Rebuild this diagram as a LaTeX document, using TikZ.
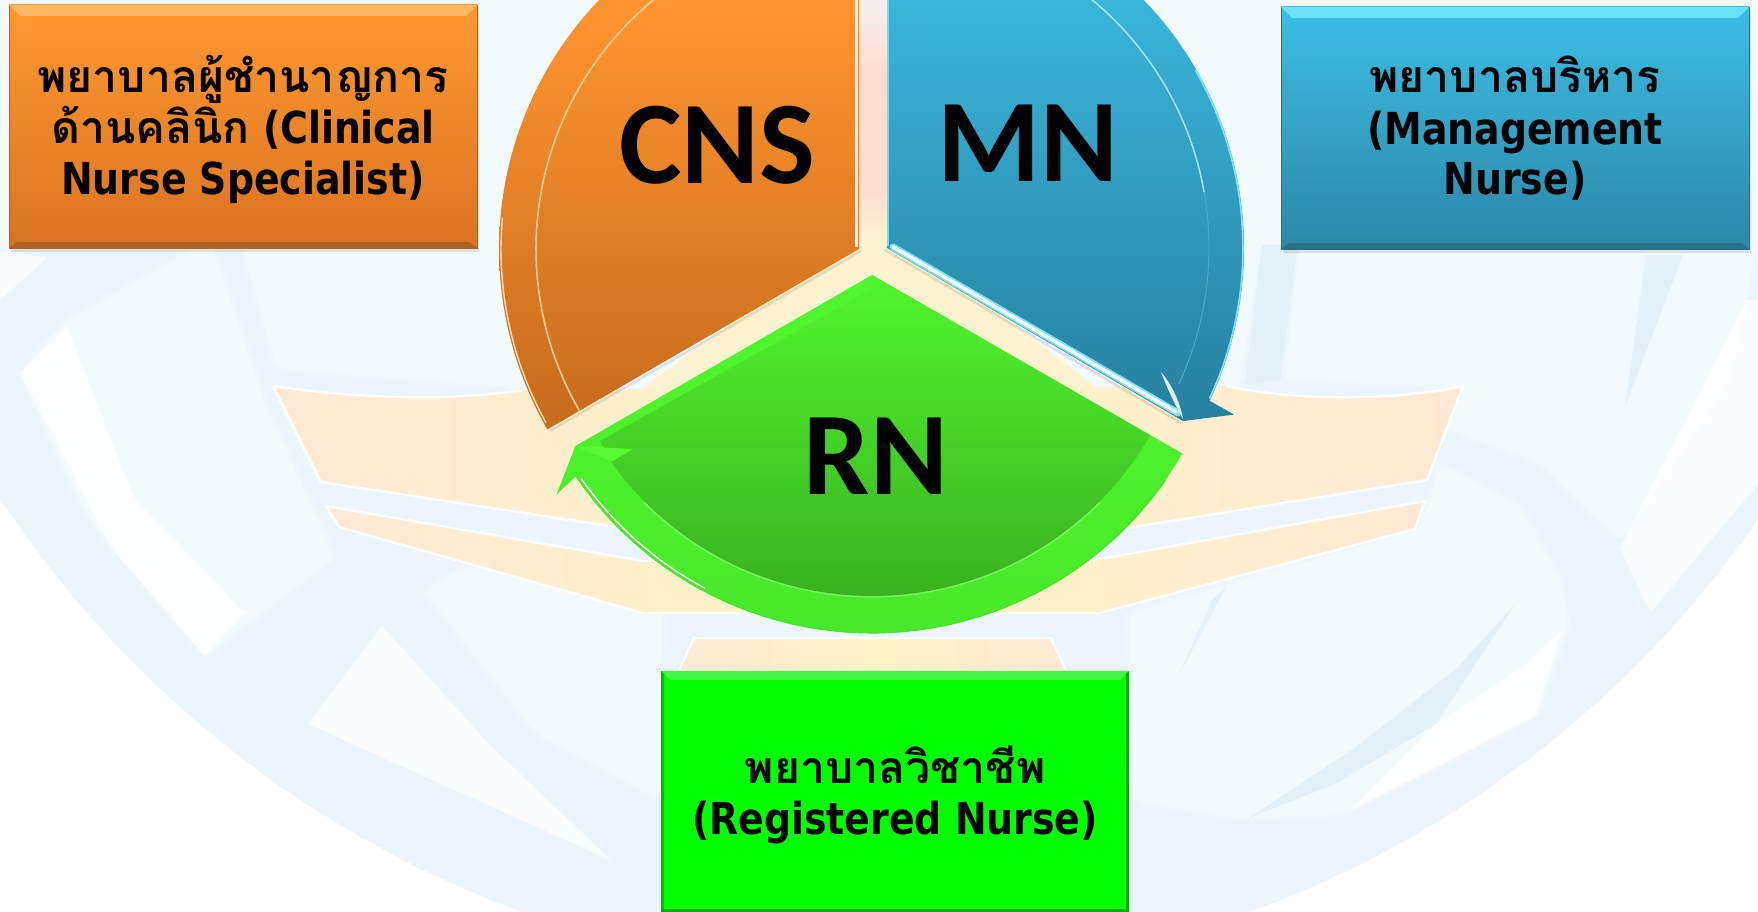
\documentclass[tikz,border=0pt]{standalone}
\usepackage{fontspec}
\setmainfont{DejaVu Sans}[FakeStretch=0.86]
\newfontfamily\thaifont[Script=Thai,Scale=1.012]{Loma}
\newfontfamily\piefont{Carlito}
\usetikzlibrary{calc}
\newcommand{\thb}[1]{{\thaifont #1}}
\newcommand{\panelfont}{\fontsize{44}{51}\selectfont\bfseries}
\newcommand{\upline}[1]{\vrule width 0pt height #1pt\relax}
\newcommand{\lowline}{\vrule width 0pt depth 12pt\relax}
\lineskiplimit=-100pt
\definecolor{wmbase}{HTML}{EBF5FB}
\definecolor{wmlight}{HTML}{F3FAFE}
\definecolor{wmdark}{HTML}{E4F1F9}
\definecolor{wingend}{HTML}{FDEAD5}
\definecolor{wingmid}{HTML}{FEF5C6}
\definecolor{cream}{HTML}{FDF3D0}
\definecolor{gaptop}{HTML}{F4EFEC}
\definecolor{gappink}{HTML}{FFDCD0}
\definecolor{ortop}{RGB}{255,149,48}
\definecolor{orbot}{RGB}{199,106,27}
\definecolor{orline}{RGB}{255,205,150}
\definecolor{orlinetwo}{RGB}{255,225,190}
\definecolor{bltop}{RGB}{57,181,218}
\definecolor{blbot}{RGB}{39,128,160}
\definecolor{bledge}{RGB}{125,215,235}
\definecolor{blband}{RGB}{120,228,248}
\definecolor{blline}{RGB}{160,232,248}
\definecolor{bllinetwo}{RGB}{75,170,200}
\definecolor{blouter}{RGB}{130,230,248}
\definecolor{grbandtop}{RGB}{80,247,46}
\definecolor{grbandbot}{RGB}{72,232,42}
\definecolor{grtop}{RGB}{80,245,46}
\definecolor{grmid}{RGB}{74,228,42}
\definecolor{grbot}{RGB}{58,178,30}
\definecolor{grhead}{RGB}{88,248,50}
\definecolor{grline}{RGB}{120,240,95}
\definecolor{grouter}{RGB}{70,225,40}
\definecolor{boxortop}{RGB}{255,152,48}
\definecolor{boxorbot}{RGB}{218,115,32}
\definecolor{boxorup}{RGB}{255,185,100}
\definecolor{boxorlow}{RGB}{176,100,35}
\definecolor{boxbltop}{RGB}{60,190,228}
\definecolor{boxblbot}{RGB}{44,135,168}
\definecolor{boxblup}{RGB}{105,226,248}
\definecolor{boxbllow}{RGB}{42,112,138}
\definecolor{boxgr}{RGB}{0,255,0}
\definecolor{boxgrup}{RGB}{70,248,70}
\definecolor{boxgrl}{RGB}{0,190,0}
\definecolor{boxgrr}{RGB}{0,170,0}
\definecolor{boxgrlow}{RGB}{0,175,0}
\tikzset{
  panel/.style={minimum width=468pt,inner sep=0pt,outer sep=0pt,align=center,
    font=\panelfont,text=black},
  pielabel/.style={anchor=base,inner sep=0pt,font=\piefont\fontsize{118}{118}\selectfont\bfseries,text=black},
  pale/.style={fill=wmlight,draw=wmlight,draw opacity=.5,line width=6pt,line join=round,rounded corners=8pt},
  blade/.style={fill=white,opacity=.7,line join=round},
  sliver/.style={fill=wmdark},
  wingedge/.style={draw=white,line width=2.5pt,line join=round},
  softshadow/.style={fill=black,opacity=.1},
  edgeshadow/.style={draw=black,opacity=.1,line width=2.5pt}
}
\begin{document}
\begin{tikzpicture}[x=1pt,y=-1pt]
\useasboundingbox (0,0) rectangle (1758,912);
\clip (0,0) rectangle (1758,912);
% --- watermark background
\fill[white] (0,0) rectangle (1758,912);
\begin{scope}
\clip (886,-84) circle [radius=1060pt];
\fill[wmbase] (0,0) rectangle (1758,912);
\fill[wmlight] (0,0) rectangle (1758,250);
\path[pale] (210,240) -- (67,321) -- (20,373) -- (89,519) -- (205,656) -- (335,557) -- (268,411) -- cycle;
\fill[blade] (67,326) -- (20,373) -- (112,549) -- (205,656) -- (245,613) -- (134,497) -- cycle;
\fill[blade] (0,250) -- (47,258) -- (0,300) -- cycle;
\path[pale] (241,240) -- (277,369) -- (522,388) -- (900,388) -- (1240,385) -- (1262,240) -- cycle;
\path[pale] (424,591) -- (464,566) -- (661,604) -- (661,800) -- (536,733) -- cycle;
\fill[blade] (382,626) -- (308,724) -- (612,861) -- (491,746) -- cycle;
\path[pale] (1129,613) -- (1420,530) -- (1440,463) -- (1520,506) -- (1562,583) -- (1568,626) -- (1536,716) -- (1343,814) -- (1243,819) -- (1134,801) -- cycle;
\path[pale] (1300,240) -- (1758,240) -- (1746,300) -- (1729,381) -- (1620,540) -- (1540,463) -- (1448,429) -- (1461,386) -- (1285,380) -- cycle;
\fill[blade] (1746,300) -- (1620,548) -- (1650,613) -- (1758,484) -- (1758,300) -- cycle;
\fill[sliver] (1646,255) -- (1683,255) -- (1625,407) -- cycle;
\fill[sliver] (1262,245) -- (1298,245) -- (1280,380) -- (1245,385) -- cycle;
\fill[sliver] (1226,587) -- (1180,673) -- (1212,600) -- cycle;
\fill[sliver] (1515,604) -- (1457,668) -- (1352,750) -- (1247,819) -- (1335,784) -- (1436,724) -- cycle;
\fill[blade] (1562,630) -- (1536,716) -- (1348,812) -- (1436,724) -- (1520,669) -- cycle;
\end{scope}
% --- emblem behind the pie
\shade[top color=gaptop,bottom color=gappink] (850,0) rectangle (895,70);
\fill[gappink] (850,70) rectangle (895,190);
\shade[top color=gappink,bottom color=cream] (850,190) rectangle (895,235);
\fill[cream] (850,235) -- (895,235) -- (1100,390) -- (640,390) -- cycle;
\shade[left color=wingend,right color=wingend,middle color=wingmid]
  (273,386) .. controls (350,398) and (450,402) .. (522,390) -- (1226,386)
  .. controls (1290,400) and (1390,402) .. (1463,386) -- (1427,480) -- (1134,527) -- (870,570) -- (603,525) -- (321,482) -- cycle;
\draw[wingedge] (273,386) .. controls (350,398) and (450,402) .. (522,390);
\draw[wingedge] (1226,386) .. controls (1290,400) and (1390,402) .. (1463,386) -- (1427,480) -- (1134,527) -- (870,570) -- (603,525) -- (321,482) -- (273,386);
\shade[left color=wingend,right color=wingend,middle color=wingmid]
  (326,506) -- (643,561) -- (1100,559) -- (1425,501) -- (1415,529) -- (1100,613) -- (643,613) -- (339,527) -- cycle;
\draw[wingedge] (326,506) -- (643,561) -- (1100,559) -- (1425,501) -- (1415,529) -- (1100,613) -- (643,613) -- (339,527) -- cycle;
\shade[left color=wingend,right color=wingend,middle color=wingmid]
  (694,638) -- (1051,638) -- (1075,690) -- (670,690) -- cycle;
\draw[wingedge] (670,690) -- (694,638) -- (1051,638) -- (1075,690);
% --- orange segment
\draw[edgeshadow] (550,431) -- (861,251);
\path[top color=ortop,bottom color=orbot]
  (859,-1) -- (859,249) -- (548,429) -- plot[domain=150:224,samples=50] ({859+360*cos(\x)},{249+360*sin(\x)}) -- cycle;
\draw[white,line width=3.5pt,opacity=.85] (856.5,0) -- (856.5,247);
\draw[orline,line width=1.6pt] plot[domain=150:232,samples=50] ({859+323*cos(\x)},{249+323*sin(\x)});
\draw[orlinetwo,line width=1.4pt] plot[domain=151:185,samples=30] ({859+358*cos(\x)},{249+358*sin(\x)});
% --- blue segment
\draw[edgeshadow] (885,250) -- (1181,423);
\path[top color=bltop,bottom color=blbot]
  (887,-1) -- (887,248) -- (1183,421) -- (1234,414.6) -- (1212,402) -- plot[domain=25.4:-45,samples=50] ({887+357*cos(\x)},{248+357*sin(\x)}) -- cycle;
\draw[bledge,line width=2pt] (888,0) -- (888,246);
\draw[blband,line width=7pt,line cap=round] (893,247) -- (1178,413);
\draw[white,line width=3.5pt,line cap=round] (893,247) -- (1176,412);
\draw[blline,line width=1.5pt] plot[domain=-51:-10,samples=30] ({887+322*cos(\x)},{248+322*sin(\x)});
\draw[bllinetwo,line width=1pt] plot[domain=-10:25,samples=30] ({887+322*cos(\x)},{248+322*sin(\x)});
\draw[blouter,line width=1.6pt] plot[domain=-30:25,samples=30] ({887+356*cos(\x)},{248+356*sin(\x)});
\fill[white,opacity=.85] (1161,372) .. controls (1172,385) and (1180,402) .. (1183,419) .. controls (1175,405) and (1168,390) .. cycle;
% --- green segment
\path[top color=grbandtop,bottom color=grbandbot]
  (872,275) -- (1184,454.5) -- plot[domain=30:145.8,samples=60] ({872+358*cos(\x)},{275+358*sin(\x)}) -- (556.5,494.5) -- (575.4,446) -- cycle;
\path[top color=grtop,middle color=grmid,bottom color=grbot]
  (872,289) -- (872,275) -- (1148,434) -- plot[domain=30:144.3,samples=60] ({872+321*cos(\x)},{275+321*sin(\x)}) -- (600,441) -- cycle;
\fill[grhead] (575.4,446) -- (633,449) -- (611.6,461.7) -- cycle;
\draw[grline,line width=1.3pt] plot[domain=45:135,samples=40] ({872+322*cos(\x)},{275+322*sin(\x)});
\draw[white,line width=1.4pt] plot[domain=118:145,samples=30] ({872+355*cos(\x)},{275+355*sin(\x)});
\draw[grouter,line width=1.2pt] plot[domain=35:146,samples=50] ({872+358*cos(\x)},{275+358*sin(\x)});
% --- pie letters
\node[pielabel] (cnslabel) at (717,184) {CNS};
\node[pielabel] (mnlabel) at (1027.5,182) {MN};
\node[pielabel] (rnlabel) at (876,494.5) {RN};
% --- boxes
\fill[softshadow] (11,8) rectangle (479,252);
\fill[softshadow] (1283,10) rectangle (1751,253);
\node[panel,minimum height=243pt,top color=boxortop,bottom color=boxorbot,draw=boxorlow,line width=.8pt] (cnsbox) at (243,126.5)
  {\upline{46}\thb{พยาบาลผู้ชำนาญการ}\\\thb{ด้านคลินิก} (Clinical\\Nurse Specialist)\lowline};
\fill[boxorup] (cnsbox.north west) -- (cnsbox.north east) -- ++(-11,11) -- ($(cnsbox.north west)+(11,11)$) -- cycle;
\fill[boxorlow] (cnsbox.south west) -- (cnsbox.south east) -- ++(-8,-6) -- ($(cnsbox.south west)+(8,-6)$) -- cycle;
\node[panel,minimum height=242pt,top color=boxbltop,bottom color=boxblbot,draw=boxbllow,line width=.8pt] (mnbox) at (1515,128)
  {\upline{44}\thb{พยาบาลบริหาร}\\(Management\\Nurse)\lowline};
\fill[boxblup] (mnbox.north west) -- (mnbox.north east) -- ++(-11,11) -- ($(mnbox.north west)+(11,11)$) -- cycle;
\fill[boxbllow] (mnbox.south west) -- (mnbox.south east) -- ++(-8,-6) -- ($(mnbox.south west)+(8,-6)$) -- cycle;
\node[panel,minimum height=241pt,fill=boxgr] (rnbox) at (895,791.5)
  {\upline{46}\thb{พยาบาลวิชาชีพ}\\(Registered Nurse)\lowline};
\fill[boxgrup] (rnbox.north west) -- (rnbox.north east) -- ++(-9,9) -- ($(rnbox.north west)+(9,9)$) -- cycle;
\fill[boxgrl] (rnbox.north west) -- ++(3,3) -- ($(rnbox.south west)+(3,0)$) -- (rnbox.south west) -- cycle;
\fill[boxgrr] (rnbox.north east) -- ++(-3,3) -- ($(rnbox.south east)+(-3,0)$) -- (rnbox.south east) -- cycle;
\fill[boxgrlow] ($(rnbox.south west)+(0,-3)$) rectangle (rnbox.south east);
\end{tikzpicture}
\end{document}
